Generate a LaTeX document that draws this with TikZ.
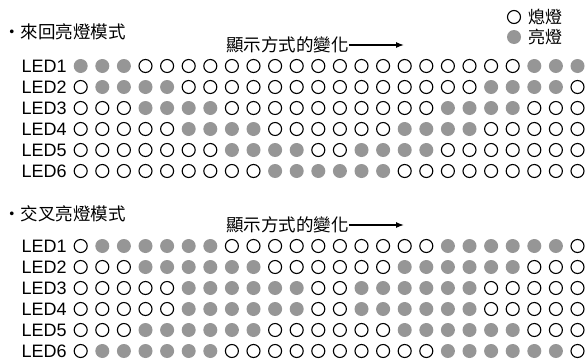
\documentclass[tikz,border=0pt]{standalone}
\usepackage{fontspec}
\setmainfont{Liberation Sans}
\newfontfamily\cjk{Noto Sans CJK TC}
\usetikzlibrary{arrows.meta}
\definecolor{ledgray}{RGB}{150,150,150}
\begin{document}
\begin{tikzpicture}[x=1pt,y=-1pt,
  off/.style={circle,draw=black,line width=1.1pt,fill=white,minimum size=13pt,inner sep=0pt},
  on/.style={circle,fill=ledgray,draw=none,minimum size=14pt,inner sep=0pt},
  lbl/.style={font=\fontsize{18}{20}\selectfont,inner sep=0pt,anchor=west},
  cjkt/.style={font=\fontsize{17.5}{20}\selectfont\cjk,inner sep=0pt},
  legt/.style={font=\fontsize{17}{20}\selectfont\cjk,inner sep=0pt,anchor=west},
  arr/.style={-{Latex[length=8pt,width=6pt]},line width=1.3pt}
]
\useasboundingbox (0,0) rectangle (586,362);
% legend
\node[off] (lo) at (514,17) {};
\node[legt] (lt1) at (528,17) {熄燈};
\node[on] (ln) at (514,37) {};
\node[legt] (lt2) at (528,37) {亮燈};
% titles
\node[cjkt,anchor=west] (t1) at (3,32) {・來回亮燈模式};
\node[cjkt] (s1) at (287.5,45) {顯示方式的變化};
\coordinate (a1) at (404,45);
\draw[arr] (s1.east) -- (a1);
\node[cjkt,anchor=west] (t2) at (3,214) {・交叉亮燈模式};
\node[cjkt] (s2) at (287.5,225) {顯示方式的變化};
\coordinate (a2) at (404,225);
\draw[arr] (s2.east) -- (a2);
% mode 1
\foreach \r/\a/\b/\c/\d in {1/1/3/22/24,2/2/5/20/23,3/4/7/18/21,4/6/9/16/19,5/8/11/14/17,6/10/15/30/30} {
  \node[lbl] (ma\r) at (21.5,{66+21*(\r-1)}) {LED\r};
  \foreach \k in {1,...,24} {
    \pgfmathtruncatemacro\isOn{((\k>=\a)&&(\k<=\b))||((\k>=\c)&&(\k<=\d))}
    \ifnum\isOn=1 \def\st{on}\else\def\st{off}\fi
    \node[\st] (ma\r-\k) at ({80.7+21.6*(\k-1)},{66+21*(\r-1)}) {};
  }
}
% mode 2
\foreach \r/\a/\b/\c/\d in {1/2/7/18/23,2/4/9/16/21,3/6/11/14/19,4/6/11/14/19,5/4/9/16/21,6/2/7/18/23} {
  \node[lbl] (mb\r) at (21.5,{246+21*(\r-1)}) {LED\r};
  \foreach \k in {1,...,24} {
    \pgfmathtruncatemacro\isOn{((\k>=\a)&&(\k<=\b))||((\k>=\c)&&(\k<=\d))}
    \ifnum\isOn=1 \def\st{on}\else\def\st{off}\fi
    \node[\st] (mb\r-\k) at ({80.7+21.6*(\k-1)},{246+21*(\r-1)}) {};
  }
}
\end{tikzpicture}
\end{document}
